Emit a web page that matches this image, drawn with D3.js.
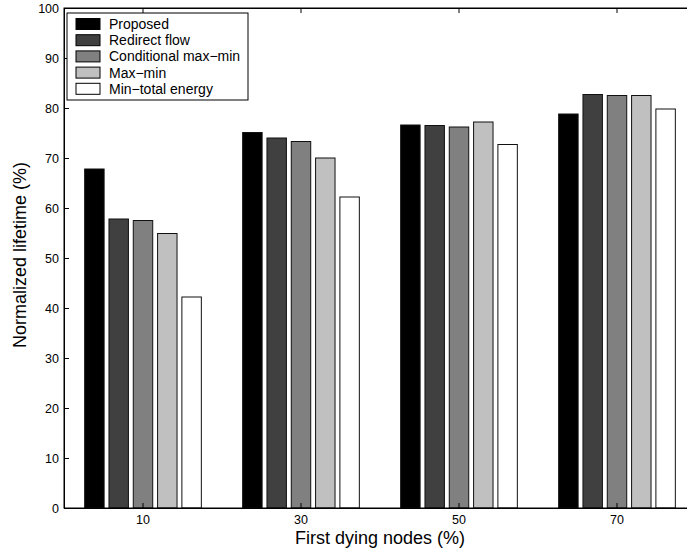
<!DOCTYPE html>
<html>
<head>
<meta charset="utf-8">
<script src="https://cdn.jsdelivr.net/npm/d3@7"></script>
<style>
  html, body { margin: 0; padding: 0; background: #fff; }
  svg { display: block; font-family: "Liberation Sans", Arial, Helvetica, sans-serif; }
</style>
</head>
<body>
<svg id="chart" width="687" height="551"></svg>
<script>
// ---- data ----
const categories = ["10", "30", "50", "70"];
const seriesNames = ["Proposed", "Redirect flow", "Conditional max\u2212min", "Max\u2212min", "Min\u2212total energy"];
const proposed       = [67.8, 75.1, 76.6, 78.8];
const redirectFlow   = [57.8, 74.0, 76.5, 82.7];
const condMaxMin     = [57.5, 73.3, 76.2, 82.5];
const maxMin         = [54.9, 70.0, 77.2, 82.5];
const minTotalEnergy = [42.2, 62.2, 72.7, 79.8];
const yTicks = [0, 10, 20, 30, 40, 50, 60, 70, 80, 90, 100];
const seriesColors = ["#000000", "#404040", "#808080", "#c0c0c0", "#ffffff"];

const seriesValues = [proposed, redirectFlow, condMaxMin, maxMin, minTotalEnergy];

// ---- layout ----
const svg = d3.select("#chart");
const mLeft = 64, mTop = 8, mRight = 696, mBottom = 508;

const x0 = d3.scaleBand().domain(categories).range([mLeft, mRight]).padding(0);
const groupW = x0.bandwidth() * Math.min(0.8, seriesNames.length / (seriesNames.length + 1.5));
const x1 = d3.scaleBand().domain(seriesNames).range([-groupW / 2, groupW / 2]).paddingInner(0.2).paddingOuter(0.1);
const y = d3.scaleLinear().domain([0, 100]).range([mBottom, mTop]);

// bars
const groups = svg.append("g").selectAll("g")
  .data(categories)
  .join("g")
  .attr("transform", c => `translate(${x0(c) + x0.bandwidth() / 2},0)`);

groups.selectAll("rect")
  .data((c, ci) => seriesNames.map((s, si) => ({ s, si, v: seriesValues[si][ci] })))
  .join("rect")
  .attr("x", d => x1(d.s))
  .attr("width", x1.bandwidth())
  .attr("y", d => y(d.v))
  .attr("height", d => y(0) - y(d.v))
  .attr("fill", d => seriesColors[d.si])
  .attr("stroke", "#111")
  .attr("stroke-width", 1);

// box
svg.append("rect")
  .attr("x", mLeft).attr("y", mTop)
  .attr("width", mRight - mLeft).attr("height", mBottom - mTop)
  .attr("fill", "none").attr("stroke", "#000").attr("stroke-width", 1);

// axes
const yAxis = d3.axisLeft(y).tickValues(yTicks).tickSize(-5).tickPadding(5);
const gy = svg.append("g").attr("transform", `translate(${mLeft},0)`).call(yAxis);
const xAxis = d3.axisBottom(x0).tickSize(-5).tickPadding(7);
const gx = svg.append("g").attr("transform", `translate(0,${mBottom})`).call(xAxis);
const xAxisTop = d3.axisTop(x0).tickSize(-5).tickFormat("");
const gxt = svg.append("g").attr("transform", `translate(0,${mTop})`).call(xAxisTop);

[gy, gx, gxt].forEach(g => {
  g.select(".domain").attr("stroke", "#000");
  g.selectAll(".tick line").attr("stroke", "#000");
  g.selectAll("text").attr("fill", "#000").style("font-size", "12.5px")
    .style("font-family", "'Liberation Sans', Arial, sans-serif");
});

// axis labels
svg.append("text")
  .attr("x", (mLeft + mRight) / 2).attr("y", 544)
  .attr("text-anchor", "middle")
  .style("font-size", "18px")
  .text("First dying nodes (%)");

svg.append("text")
  .attr("transform", `translate(20,${(mTop + mBottom) / 2 - 3}) rotate(-90)`)
  .attr("text-anchor", "middle")
  .attr("dy", "0.35em")
  .style("font-size", "18px")
  .text("Normalized lifetime (%)");

// legend
const lg = svg.append("g").attr("transform", "translate(67,13)");
lg.append("rect").attr("x", 0).attr("y", 0).attr("width", 181).attr("height", 87)
  .attr("fill", "#fff").attr("stroke", "#000").attr("stroke-width", 1);
const rowH = 16.2;
const items = lg.selectAll("g.item").data(seriesNames).join("g")
  .attr("class", "item")
  .attr("transform", (d, i) => `translate(0,${11 + i * rowH})`);
items.append("rect")
  .attr("x", 9).attr("y", -5.5).attr("width", 24).attr("height", 11)
  .attr("fill", (d, i) => seriesColors[i])
  .attr("stroke", "#000").attr("stroke-width", 1);
items.append("text")
  .attr("x", 42).attr("y", 0).attr("dy", "0.35em")
  .style("font-size", "14px")
  .text(d => d);
</script>
</body>
</html>
